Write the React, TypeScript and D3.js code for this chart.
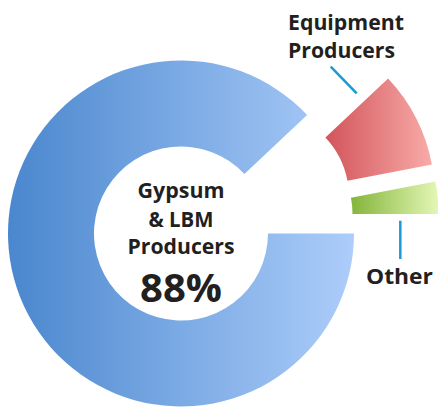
import React from "react";
import * as d3 from "d3";

const categories = ["Gypsum & LBM Producers", "Equipment Producers", "Other"];
const shares = [88, 9, 3];
const centerLines = ["Gypsum", "& LBM", "Producers"];
const centerValue = "88%";

const W = 438;
const H = 408;
const cx = 181;
const cy = 233.5;
const outerR = 173;
const innerR = 87;
const offsets = [
  [0, 0],
  [81, -36.5],
  [84.5, -19.5],
];
const gradients = [
  ["#4a87ce", "#adcdfa"],
  ["#d2545a", "#f8aba8"],
  ["#84b53a", "#e4f7b6"],
];
const centerWidths = [87, 65, 107];
const centerBaselines = [198, 226.5, 254];
const FONT = "'Open Sans', sans-serif";
const LEADER = "#1b9ad8";
const INK = "#231f20";

export default function App() {
  const pie = d3
    .pie<number>()
    .sort(null)
    .startAngle(Math.PI / 2)
    .endAngle(Math.PI / 2 + 2 * Math.PI)
    .value((d) => d);
  const arcs = pie(shares);
  const arc = d3.arc<d3.PieArcDatum<number>>().innerRadius(innerR).outerRadius(outerR);

  return (
    <svg
      width={W}
      height={H}
      style={{ position: "absolute", left: 0, top: 0, background: "#fff" }}
    >
      <defs>
        {gradients.map((g, i) => (
          <linearGradient key={i} id={`g${i}`} x1="0" y1="0" x2="1" y2="0">
            <stop offset="0" stopColor={g[0]} />
            <stop offset="1" stopColor={g[1]} />
          </linearGradient>
        ))}
      </defs>
      {arcs.map((a, i) => (
        <g key={categories[i]} transform={`translate(${cx + offsets[i][0]},${cy + offsets[i][1]})`}>
          <path d={arc(a) || ""} fill={`url(#g${i})`} />
        </g>
      ))}
      <g fontFamily={FONT} fontWeight="bold" fill={INK} textAnchor="middle">
        {centerLines.map((t, i) => (
          <text
            key={t}
            x={cx}
            y={centerBaselines[i]}
            fontSize={21}
            textLength={centerWidths[i]}
            lengthAdjust="spacingAndGlyphs"
          >
            {t}
          </text>
        ))}
        <text x={cx} y={302} fontSize={39} textLength={82} lengthAdjust="spacingAndGlyphs">
          {centerValue}
        </text>
      </g>
      <g fontFamily={FONT} fontWeight="bold" fill={INK}>
        <text x={288} y={29.5} fontSize={22} textLength={116} lengthAdjust="spacingAndGlyphs">Equipment</text>
        <text x={288} y={57.5} fontSize={21} textLength={107} lengthAdjust="spacingAndGlyphs">Producers</text>
        <text x={366} y={283.5} fontSize={22} textLength={67} lengthAdjust="spacingAndGlyphs">Other</text>
      </g>
      <line x1={330.7} y1={66.7} x2={356.7} y2={93.3} stroke={LEADER} strokeWidth={2.5} />
      <line x1={400.3} y1={220.7} x2={400.3} y2={259} stroke={LEADER} strokeWidth={2.5} />
    </svg>
  );
}
